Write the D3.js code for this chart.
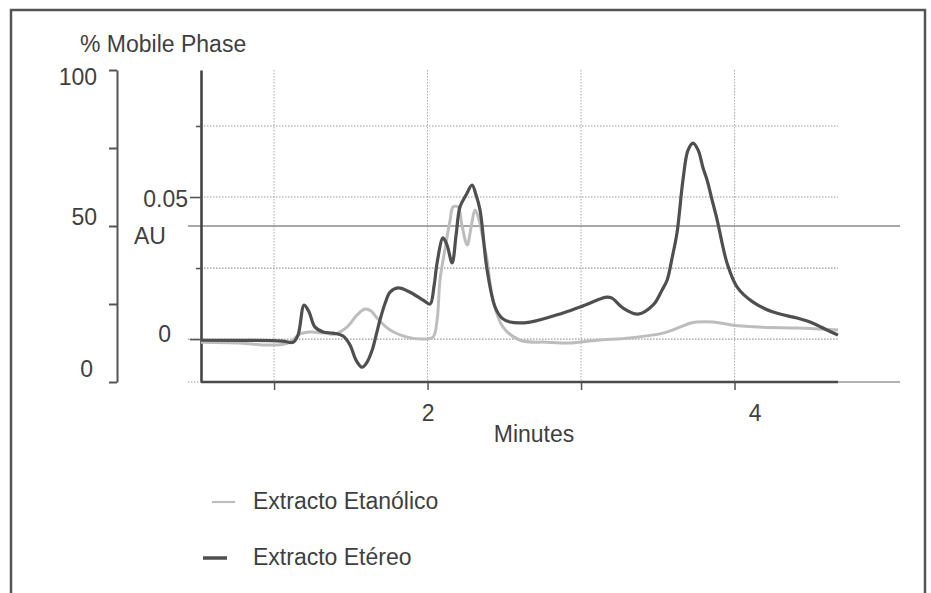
<!DOCTYPE html>
<html>
<head>
<meta charset="utf-8">
<script src="https://cdn.jsdelivr.net/npm/d3@7"></script>
<style>
body { margin: 0; background: #fff; }
svg text { font-family: "Liberation Sans", Arial, Helvetica, sans-serif; fill: #3f3f3f; }
</style>
</head>
<body>
<div id="chart"></div>
<script>
// cromatograma: tiempo (min) y absorbancia (AU)
var etanolicoTime = [0.524, 0.778, 0.941, 1.059, 1.105, 1.169, 1.235, 1.332, 1.397, 1.475, 1.541, 1.593, 1.632, 1.671, 1.756, 1.867, 1.971, 2.036, 2.062, 2.081, 2.107, 2.127, 2.147, 2.166, 2.199, 2.224, 2.258, 2.283, 2.309, 2.336, 2.362, 2.388, 2.426, 2.492, 2.603, 2.779, 2.928, 3.104, 3.319, 3.534, 3.645, 3.71, 3.755, 3.86, 3.991, 4.185, 4.408, 4.674]
var etanolicoAU = [-0.0011, -0.0014, -0.0021, -0.0018, -0.0011, 0.0018, 0.0025, 0.0021, 0.0018, 0.0042, 0.0085, 0.0106, 0.0099, 0.0074, 0.0032, 0.0007, 0, 0.0007, 0.0067, 0.0208, 0.0296, 0.0359, 0.0419, 0.0465, 0.0465, 0.0401, 0.0331, 0.0391, 0.0454, 0.0419, 0.0349, 0.0278, 0.0137, 0.0042, -0.0004, -0.0011, -0.0014, -0.0004, 0.0004, 0.0021, 0.0042, 0.0056, 0.006, 0.006, 0.0049, 0.0042, 0.0039, 0.0032]

var etereoTime = [0.524, 1.052, 1.124, 1.156, 1.196, 1.228, 1.267, 1.32, 1.384, 1.45, 1.495, 1.534, 1.573, 1.606, 1.639, 1.665, 1.69, 1.724, 1.756, 1.807, 1.886, 1.971, 2.016, 2.043, 2.062, 2.101, 2.127, 2.16, 2.186, 2.211, 2.251, 2.29, 2.316, 2.342, 2.388, 2.44, 2.485, 2.538, 2.668, 2.883, 2.994, 3.124, 3.17, 3.202, 3.274, 3.372, 3.47, 3.528, 3.561, 3.593, 3.625, 3.664, 3.697, 3.73, 3.763, 3.795, 3.821, 3.854, 3.887, 3.919, 3.951, 4.017, 4.121, 4.251, 4.408, 4.511, 4.602, 4.674]
var etereoAU = [-0.0004, -0.0007, -0.0011, 0.0014, 0.012, 0.0095, 0.0042, 0.0025, 0.0021, 0.0011, -0.0021, -0.0074, -0.0099, -0.0081, -0.0039, 0.0014, 0.0067, 0.0127, 0.0165, 0.018, 0.0165, 0.0137, 0.0123, 0.019, 0.0268, 0.0356, 0.0331, 0.0268, 0.0366, 0.0465, 0.0507, 0.0542, 0.0507, 0.0454, 0.0243, 0.0113, 0.0074, 0.006, 0.006, 0.0092, 0.0113, 0.0141, 0.0148, 0.0144, 0.0109, 0.0088, 0.012, 0.0173, 0.0208, 0.0285, 0.0373, 0.056, 0.0665, 0.069, 0.0665, 0.0602, 0.056, 0.0489, 0.0419, 0.0338, 0.0268, 0.0183, 0.013, 0.0095, 0.0074, 0.0056, 0.0032, 0.0014]

// fase movil (isocratica)
var mobileTime = [0.44, 5.078]
var mobilePct = [50, 50]

var minuteTicks = [1, 2, 3, 4]
var minuteLabels = ["", "2", "", "4"]
var auTicks = [0, 0.025, 0.05, 0.075]
var auLabels = ["0", "", "0.05", ""]
var pctTicks = [0, 25, 50, 75, 100]
var pctLabels = ["0", "", "50", "", "100"]
var legendNames = ["Extracto Etanólico", "Extracto Etéreo"]

var W = 931, H = 593
var col = ["#bdbdbd", "#4f4f4f"]
var fs = "23px"

var svg = d3.select("#chart").append("svg")
	.attr("width", W)
	.attr("height", H)

// marco
svg.append("path")
	.attr("d", "M11," + H + "V10H925V" + H)
	.attr("fill", "none")
	.attr("stroke", "#555")
	.attr("stroke-width", 2.5)

var x = d3.scaleLinear().domain([0.524, 5.078]).range([201, 900])
var y = d3.scaleLinear().domain([-0.0151, 0.0947]).range([382, 70])
var yPct = d3.scaleLinear().domain([0, 100]).range([382, 70])
var tEnd = d3.max(etereoTime)

// rejilla
var grid = svg.append("g")
grid.selectAll(".vg")
	.data(minuteTicks)
	.enter().append("line")
	.attr("x1", function (d) { return x(d) })
	.attr("x2", function (d) { return x(d) })
	.attr("y1", y.range()[1])
	.attr("y2", y.range()[0])
	.attr("stroke", "#aaa")
	.attr("stroke-width", 1)
	.attr("stroke-dasharray", "1.5,1.5")
grid.selectAll(".hg")
	.data(auTicks)
	.enter().append("line")
	.attr("x1", function (d) { return d == 0 ? 188 : x.range()[0] })
	.attr("x2", x(tEnd))
	.attr("y1", function (d) { return y(d) })
	.attr("y2", function (d) { return y(d) })
	.attr("stroke", "#999")
	.attr("stroke-width", 1.2)
	.attr("stroke-dasharray", "1.5,1.5")

// fase movil
svg.append("path")
	.datum(d3.range(mobileTime.length))
	.attr("fill", "none")
	.attr("stroke", "#8a8a8a")
	.attr("stroke-width", 1.6)
	.attr("d", d3.line()
		.x(function (i) { return x(mobileTime[i]) })
		.y(function (i) { return yPct(mobilePct[i]) }))

// eje % fase movil
var pctAxis = svg.append("g")
	.attr("transform", "translate(117,0)")
	.call(d3.axisLeft(yPct).tickValues(pctTicks).tickSize(8).tickSizeOuter(0).tickPadding(12)
		.tickFormat(function (d, i) { return pctLabels[i] }))
pctAxis.selectAll("path, line").attr("stroke", "#555").attr("stroke-width", 2)
pctAxis.selectAll("text").style("font-size", fs)
	.attr("dy", function (d) { return d == 100 ? "0.65em" : d == 50 ? "-0.05em" : d == 0 ? "-0.22em" : "0.32em" })
	.attr("x", function (d) { return d == 0 ? -24 : -20 })

// eje AU
var auAxis = svg.append("g")
	.attr("transform", "translate(" + x.range()[0] + ",0)")
	.call(d3.axisLeft(y).tickValues(auTicks).tickSize(11).tickSizeOuter(0).tickPadding(2)
		.tickFormat(function (d, i) { return auLabels[i] }))
auAxis.select(".domain").attr("stroke", "#444").attr("stroke-width", 2.6)
auAxis.selectAll("line").attr("stroke", "#555").attr("stroke-width", 1.6)
	.attr("x2", function (d) { return (d == 0 || d == 0.05) ? -11 : -5 })
auAxis.selectAll("text").style("font-size", fs)
	.attr("x", function (d) { return d == 0 ? -30 : -13 })
	.attr("dy", function (d) { return d == 0 ? "0.09em" : "0.43em" })

// eje de tiempo
svg.append("line")
	.attr("x1", 188).attr("x2", x.range()[0])
	.attr("y1", y.range()[0]).attr("y2", y.range()[0])
	.attr("stroke", "#999").attr("stroke-width", 1.2).attr("stroke-dasharray", "1.5,1.5")
svg.append("line")
	.attr("x1", x(tEnd)).attr("x2", x.range()[1])
	.attr("y1", y.range()[0]).attr("y2", y.range()[0])
	.attr("stroke", "#999").attr("stroke-width", 1.6)
var xAxis = svg.append("g")
	.attr("transform", "translate(0," + y.range()[0] + ")")
	.call(d3.axisBottom(x).tickValues(minuteTicks).tickSize(8).tickSizeOuter(0).tickPadding(15)
		.tickFormat(function (d, i) { return minuteLabels[i] }))
xAxis.select(".domain").attr("d", "M" + x.range()[0] + ",0H" + x(tEnd))
	.attr("stroke", "#4a4a4a").attr("stroke-width", 2.6)
xAxis.selectAll("line").attr("stroke", "#555").attr("stroke-width", 1.5)
xAxis.selectAll("text").style("font-size", fs)
	.attr("x", function (d) { return d == 4 ? 20 : 0 })

// curvas
var series = [
	{ t: etanolicoTime, v: etanolicoAU, w: 3 },
	{ t: etereoTime, v: etereoAU, w: 3.2 }
]
var line = function (s) {
	return d3.line()
		.curve(d3.curveCatmullRom.alpha(0.5))
		.x(function (i) { return x(s.t[i]) })
		.y(function (i) { return y(s.v[i]) })(d3.range(s.t.length))
}
svg.selectAll(".serie")
	.data(series)
	.enter().append("path")
	.attr("fill", "none")
	.attr("stroke", function (d, i) { return col[i] })
	.attr("stroke-width", function (d) { return d.w })
	.attr("stroke-linejoin", "round")
	.attr("d", line)

// titulos
svg.append("text").attr("x", 80).attr("y", 52).style("font-size", fs).text("% Mobile Phase")
svg.append("text").attr("x", 134).attr("y", 244).style("font-size", fs).text("AU")
svg.append("text").attr("x", 534).attr("y", 442).style("font-size", fs)
	.style("text-anchor", "middle").text("Minutes")

// leyenda
var leg = svg.selectAll(".leg")
	.data(legendNames)
	.enter().append("g")
	.attr("transform", function (d, i) { return "translate(0," + (i * 56) + ")" })
leg.append("line")
	.attr("x1", function (d, i) { return i == 0 ? 212 : 203 })
	.attr("x2", function (d, i) { return i == 0 ? 235 : 227 })
	.attr("y1", 502).attr("y2", 502)
	.attr("stroke", function (d, i) { return col[i] })
	.attr("stroke-width", function (d, i) { return i == 0 ? 2.2 : 3.5 })
leg.append("text")
	.attr("x", 253).attr("y", 509)
	.style("font-size", fs)
	.text(function (d) { return d })
</script>
</body>
</html>
